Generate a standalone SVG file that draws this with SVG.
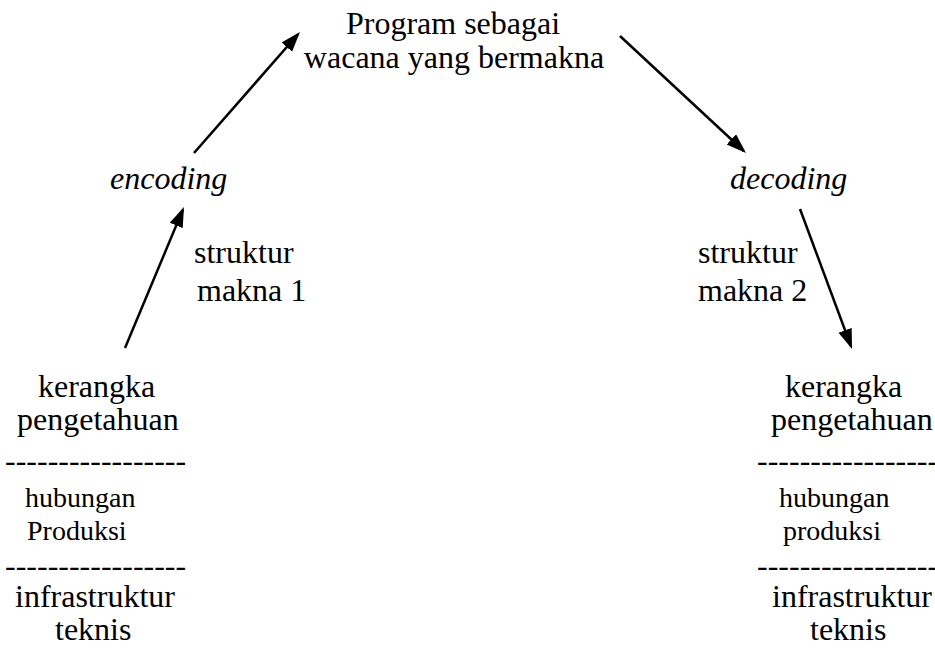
<svg xmlns="http://www.w3.org/2000/svg" width="935" height="653" viewBox="0 0 935 653">
<style>
.it{font-style:italic}
.c{text-anchor:middle}
.conn line{stroke:#000;stroke-width:2.5;fill:none}
</style>
<defs>
<marker id="ah" markerUnits="userSpaceOnUse" markerWidth="22" markerHeight="16" refX="17" refY="7" orient="auto" viewBox="0 0 22 16">
<path d="M0,0 L20,7 L0,14 z" fill="#000"/>
</marker>
</defs>
<rect width="935" height="653" fill="#fff"/>
<g id="program" font-family="Liberation Serif" font-size="32">
<text class="c" x="453" y="34">Program sebagai</text>
<text class="c" x="454" y="68">wacana yang bermakna</text>
</g>
<g id="encoding" font-family="Liberation Serif" font-size="32"><text class="it" x="110" y="189">encoding</text></g>
<g id="decoding" font-family="Liberation Serif" font-size="32"><text class="it" x="730" y="189">decoding</text></g>
<g id="struktur1" font-family="Liberation Serif" font-size="32">
<text x="194" y="263">struktur</text>
<text x="197" y="301">makna 1</text>
</g>
<g id="struktur2" font-family="Liberation Serif" font-size="32">
<text x="698" y="263">struktur</text>
<text x="698" y="301">makna 2</text>
</g>
<g id="left-block" font-family="Liberation Serif" font-size="32">
<text x="38" y="397">kerangka</text>
<text x="17" y="430">pengetahuan</text>
<text x="5" y="471">-----------------</text>
<text x="25" y="507" font-size="28">hubungan</text>
<text x="27" y="540" font-size="28">Produksi</text>
<text x="5" y="576">-----------------</text>
<text x="15" y="607">infrastruktur</text>
<text x="55" y="640">teknis</text>
</g>
<g id="right-block" font-family="Liberation Serif" font-size="32">
<text x="785" y="397">kerangka</text>
<text x="771" y="430">pengetahuan</text>
<text x="757" y="471">-----------------</text>
<text x="779" y="507" font-size="28">hubungan</text>
<text x="783" y="540" font-size="28">produksi</text>
<text x="757" y="576">-----------------</text>
<text x="772" y="607">infrastruktur</text>
<text x="810" y="640">teknis</text>
</g>
<g class="conn" id="connectors">
<line x1="125" y1="348" x2="182.8" y2="209.8" marker-end="url(#ah)"/>
<line x1="194" y1="153" x2="298" y2="34.3" marker-end="url(#ah)"/>
<line x1="620" y1="36" x2="743.8" y2="151" marker-end="url(#ah)"/>
<line x1="800" y1="209" x2="851" y2="346.2" marker-end="url(#ah)"/>
</g>
</svg>
